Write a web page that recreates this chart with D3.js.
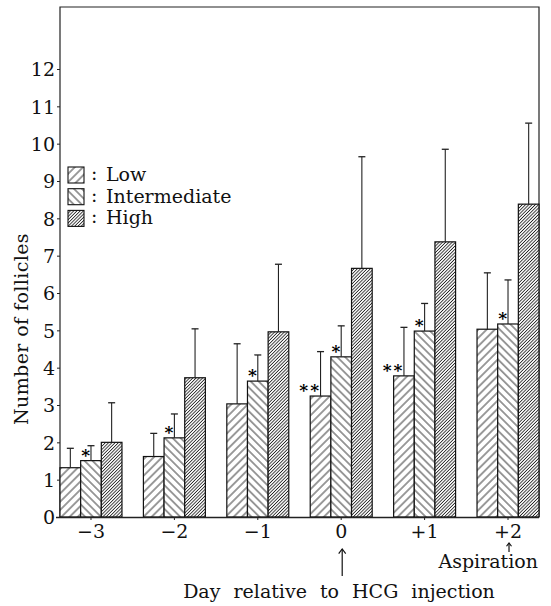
<!DOCTYPE html>
<html>
<head>
<meta charset="utf-8">
<script src="https://cdn.jsdelivr.net/npm/d3@7/dist/d3.min.js"></script>
<style>
  html, body { margin: 0; padding: 0; background: #fff; }
  svg { display: block; }
  text { font-family: "DejaVu Serif", "Liberation Serif", serif; fill: #111; }
</style>
</head>
<body>
<svg id="chart" width="551" height="606"></svg>
<script>
// ---- data ----
const days = ["\u22123", "\u22122", "\u22121", "0", "+1", "+2"];
const seriesNames = ["Low", "Intermediate", "High"];
const lowMean   = [1.32, 1.62, 3.03, 3.24, 3.78, 5.03];
const lowUpper  = [1.84, 2.24, 4.64, 4.43, 5.08, 6.54];
const interMean = [1.51, 2.12, 3.64, 4.29, 4.98, 5.17];
const interUpper= [1.91, 2.76, 4.34, 5.12, 5.72, 6.35];
const highMean  = [2.00, 3.73, 4.96, 6.66, 7.37, 8.38];
const highUpper = [3.06, 5.04, 6.77, 9.65, 9.85, 10.55];
const lowSig    = ["", "", "", "**", "**", ""];
const interSig  = ["*", "*", "*", "*", "*", "*"];
const yTicks = [0,1,2,3,4,5,6,7,8,9,10,11,12];
const xTitle = "Day relative to HCG injection";
const yTitle = "Number of follicles";

const means = [lowMean, interMean, highMean];
const uppers = [lowUpper, interUpper, highUpper];

const svg = d3.select("#chart");
const pL = 60, pR = 539, pT = 7, pB = 517;

const x = d3.scaleBand().domain(days).range([pL, pR]).paddingInner(0.257).paddingOuter(0);
const xs = d3.scaleBand().domain(seriesNames).range([0, x.bandwidth()]).padding(0);
const y = d3.scaleLinear().domain([0, 12]).range([pB, 69]);

// ---- patterns ----
const defs = svg.append("defs");
function hatch(id, spacing, angle, sw) {
  const p = defs.append("pattern").attr("id", id)
    .attr("patternUnits", "userSpaceOnUse")
    .attr("width", spacing).attr("height", spacing)
    .attr("patternTransform", `rotate(${angle})`);
  p.append("rect").attr("width", spacing).attr("height", spacing).attr("fill", "#fff");
  p.append("line").attr("x1", spacing/2).attr("x2", spacing/2).attr("y1", 0).attr("y2", spacing)
    .attr("stroke", "#222").attr("stroke-width", sw);
}
hatch("pLow", 5.8, 45, 0.9);
hatch("pInter", 5.6, -45, 0.9);
hatch("pHigh", 2.3, 45, 0.85);
const fills = {"Low": "url(#pLow)", "Intermediate": "url(#pInter)", "High": "url(#pHigh)"};

// ---- frame ----
svg.append("path")
  .attr("d", `M${pL},${pB} L${pL},${pT} L${pR},${pT} L${pR},${pB}`)
  .attr("fill", "none").attr("stroke", "#222").attr("stroke-width", 1.2);

// ---- bars ----
const g = svg.append("g");
seriesNames.forEach((s, si) => {
  days.forEach((d, di) => {
    const x0 = x(d) + xs(s);
    const v = means[si][di];
    g.append("rect")
      .attr("x", x0).attr("y", y(v))
      .attr("width", xs.bandwidth()).attr("height", y(0) - y(v))
      .attr("fill", fills[s]).attr("stroke", "#111").attr("stroke-width", 1.2);
    const cx = x0 + xs.bandwidth() / 2;
    const u = uppers[si][di];
    g.append("line").attr("x1", cx).attr("x2", cx).attr("y1", y(v)).attr("y2", y(u))
      .attr("stroke", "#222").attr("stroke-width", 1.1);
    g.append("line").attr("x1", cx - 3.5).attr("x2", cx + 3.5).attr("y1", y(u)).attr("y2", y(u))
      .attr("stroke", "#222").attr("stroke-width", 1.3);
  });
});

// ---- significance marks ----
days.forEach((d, di) => {
  if (interSig[di]) {
    svg.append("text").attr("x", x(d) + xs("Intermediate") + 5).attr("y", y(interMean[di]) + 0)
      .attr("text-anchor", "middle").attr("font-size", 17).attr("font-weight", "bold")
      .style("fill", "#000").text(interSig[di]);
  }
  if (lowSig[di]) {
    svg.append("text").attr("x", x(d) + xs("Low")).attr("y", y(lowMean[di]) + 0)
      .attr("text-anchor", "middle").attr("font-size", 17).attr("font-weight", "bold")
      .attr("letter-spacing", 2).style("fill", "#000")
      .text(lowSig[di]);
  }
});

// ---- axes ----
const yAxis = d3.axisLeft(y).tickValues(yTicks).tickSize(3).tickPadding(2).tickFormat(d3.format("d"));
const ya = svg.append("g").attr("transform", `translate(${pL},0)`).call(yAxis);
ya.select(".domain").remove();
ya.selectAll("line").attr("stroke", "#222");
ya.selectAll("text").attr("font-size", 19).attr("dy", "0.36em")
  .style("font-family", "'DejaVu Serif', serif").attr("fill", "#111");

const xAxis = d3.axisBottom(x).tickSize(3).tickPadding(5);
const xa = svg.append("g").attr("transform", `translate(0,${pB})`).call(xAxis);
xa.select(".domain").attr("d", `M${pL - 4},0.5H${pR}`).attr("stroke", "#222").attr("stroke-width", 1.3);
xa.selectAll("line").attr("stroke", "#222");
xa.selectAll("text").attr("font-size", 19)
  .style("font-family", "'DejaVu Serif', serif").attr("fill", "#111");

// ---- titles ----
svg.append("text").attr("transform", `translate(28,329) rotate(-90)`)
  .attr("text-anchor", "middle").attr("font-size", 19).attr("letter-spacing", 0.4).text(yTitle);
svg.append("text").attr("x", 339).attr("y", 598)
  .attr("text-anchor", "middle").attr("font-size", 19).attr("word-spacing", 7).text(xTitle);

// ---- annotations ----
function arrow(cx, y1, y2, head) {
  svg.append("line").attr("x1", cx).attr("x2", cx).attr("y1", y1).attr("y2", y2)
    .attr("stroke", "#111").attr("stroke-width", 1.2);
  svg.append("path").attr("d", `M${cx - head},${y1 + head * 1.3} L${cx},${y1} L${cx + head},${y1 + head * 1.3}`)
    .attr("fill", "none").attr("stroke", "#111").attr("stroke-width", 1.2);
}
arrow(x("0") + x.bandwidth() / 2 + 1, 549, 576, 3.5);
arrow(x("+2") + x.bandwidth() / 2 + 1, 543, 552, 2.5);
svg.append("text").attr("x", 538).attr("y", 568).attr("text-anchor", "end")
  .attr("font-size", 19).text("Aspiration");

// ---- legend ----
const lg = svg.append("g");
seriesNames.forEach((s, i) => {
  const yy = 167 + i * 21.7;
  lg.append("rect").attr("x", 68).attr("y", yy).attr("width", 16).attr("height", 16)
    .attr("fill", fills[s]).attr("stroke", "#111").attr("stroke-width", 1.1);
  lg.append("text").attr("x", 91).attr("y", yy + 13).attr("font-size", 19).text(":");
  lg.append("text").attr("x", 106).attr("y", yy + 14).attr("font-size", 19).text(s);
});
</script>
</body>
</html>
